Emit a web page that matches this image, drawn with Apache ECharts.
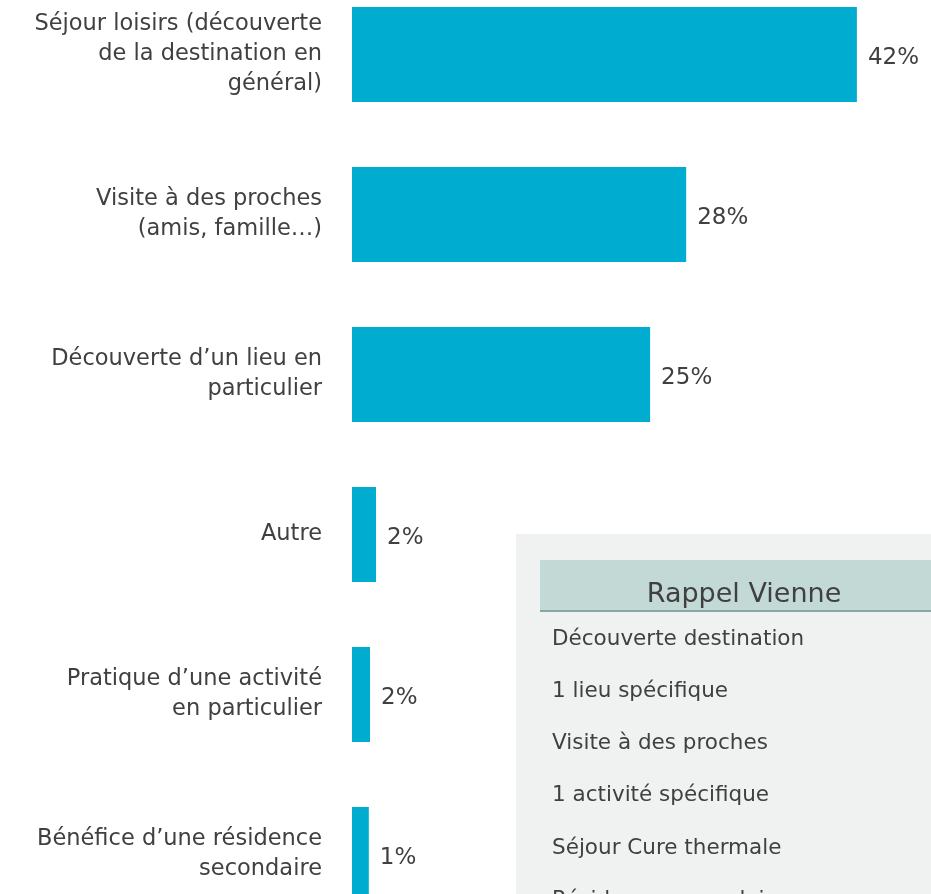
<!DOCTYPE html>
<html>
<head>
<meta charset="utf-8">
<script src="https://cdn.jsdelivr.net/npm/echarts@6/dist/echarts.min.js"></script>
<style>
    html, body { margin: 0; padding: 0; background: #ffffff; }
    #chart { width: 931px; height: 894px; }
</style>
</head>
<body>
<div id="chart"></div>
<script>
// catégories (de haut en bas)
const categories = [
    "Séjour loisirs (découverte\nde la destination en\ngénéral)",
    "Visite à des proches\n(amis, famille…)",
    "Découverte d’un lieu en\nparticulier",
    "Autre",
    "Pratique d’une activité\nen particulier",
    "Bénéfice d’une résidence\nsecondaire"
];
// pourcentages
const values = [42, 27.8, 24.8, 2.0, 1.5, 1.4];
const valueLabels = ["42%", "28%", "25%", "2%", "2%", "1%"];

// encadré "Rappel Vienne"
const insetTitle = "Rappel Vienne";
const insetItems = [
    "Découverte destination",
    "1 lieu spécifique",
    "Visite à des proches",
    "1 activité spécifique",
    "Séjour Cure thermale",
    "Résidence secondaire"
];

const FONT = "DejaVu Sans";
const TEXT_COLOR = "#404040";

function renderChart() {
    let chart = echarts.init(document.getElementById("chart"));

    //encadré à droite
    let graphics = [
        {
            type: "rect",
            shape: {x: 516, y: 534, width: 430, height: 400},
            style: {fill: "#f0f2f1"},
            z: 10
        },
        {
            type: "rect",
            shape: {x: 540, y: 560, width: 400, height: 51},
            style: {fill: "#c3d9d6"},
            z: 11
        },
        {
            type: "line",
            shape: {x1: 540, y1: 611, x2: 940, y2: 611},
            style: {stroke: "#8ca7a3", lineWidth: 2},
            z: 12
        },
        {
            type: "text",
            x: 744,
            y: 595,
            style: {
                text: insetTitle,
                fill: TEXT_COLOR,
                font: "27px '" + FONT + "'",
                textAlign: "center",
                textVerticalAlign: "middle"
            },
            z: 12
        }
    ];
    insetItems.forEach(function (item, i) {
        graphics.push({
            type: "text",
            x: 552,
            y: 639 + i * 52.3,
            style: {
                text: item,
                fill: TEXT_COLOR,
                font: "21.5px '" + FONT + "'",
                textAlign: "left",
                textVerticalAlign: "middle"
            },
            z: 12
        });
    });

    let option = {
        animation: false,
        grid: {
            left: 352,
            width: 577,
            top: -25.5,
            height: 960,
            containLabel: false,
            outerBoundsMode: "none"
        },
        xAxis: {
            type: "value",
            min: 0,
            max: 48,
            show: false
        },
        yAxis: {
            type: "category",
            data: categories,
            inverse: true,
            axisLine: {show: false},
            axisTick: {show: false},
            splitLine: {show: false},
            axisLabel: {
                margin: 30,
                color: TEXT_COLOR,
                fontFamily: FONT,
                fontSize: 22.5,
                lineHeight: 30,
                padding: [6, 0, 0, 0],
                backgroundColor: "rgba(0,0,0,0)",
                align: "right"
            }
        },
        series: [{
            type: "bar",
            data: values,
            barWidth: 95,
            itemStyle: {color: "#00acd0"},
            label: {
                show: true,
                position: "right",
                distance: 11,
                offset: [0, 4],
                color: TEXT_COLOR,
                fontFamily: FONT,
                fontSize: 23,
                formatter: function (p) {
                    return valueLabels[p.dataIndex];
                }
            }
        }],
        graphic: graphics
    };

    chart.setOption(option);
}

renderChart();
</script>
</body>
</html>
